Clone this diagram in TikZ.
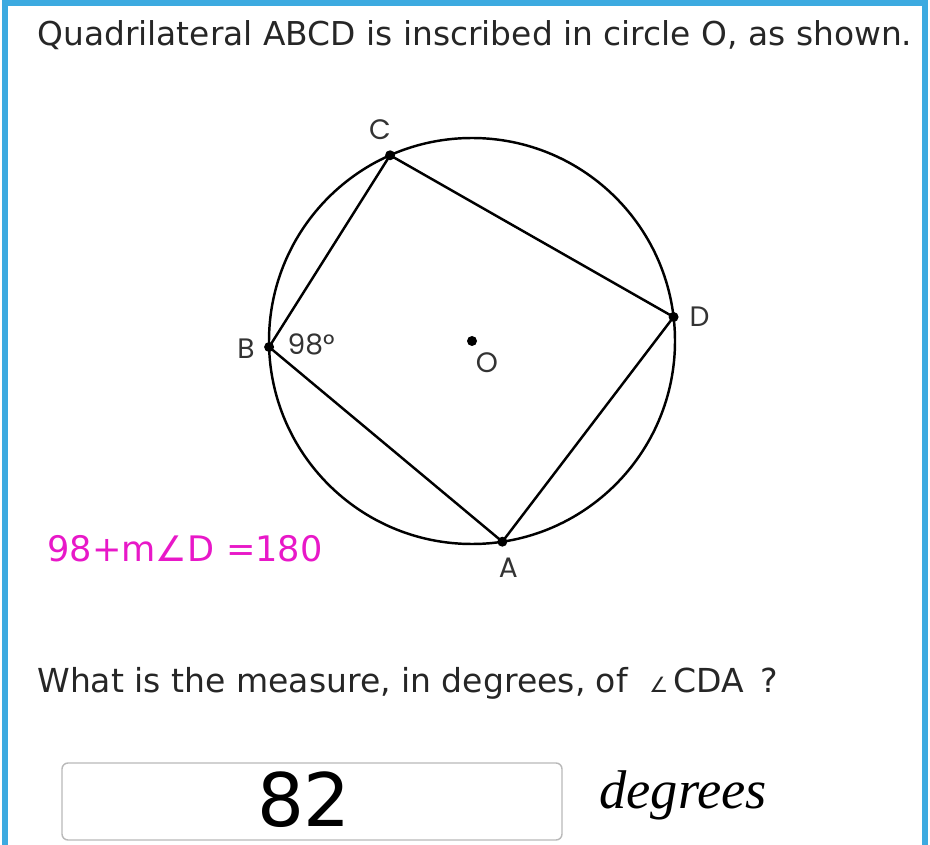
\documentclass[tikz,border=0pt]{standalone}
\usepackage{fontspec}
\usepackage{tikz}
\usepackage{xcolor}
\usetikzlibrary{calc,positioning}
\setmainfont{DejaVu Sans}
\newfontfamily\labelfont{Poppins}
\newfontfamily\inkfont{DejaVu Sans}
\newfontfamily\unitfont{Liberation Serif}
\definecolor{frameblue}{RGB}{60,170,224}
\definecolor{inkpink}{RGB}{232,24,200}
\definecolor{boxgray}{RGB}{185,185,185}

\begin{document}
\begin{tikzpicture}[
    dot/.style={circle, fill=black, inner sep=0pt, minimum size=0.2cm},
    ptlabel/.style={font=\labelfont\fontsize{16}{18}\selectfont, text=black!80, inner sep=0pt},
    qtext/.style={text=black!85, anchor=base west, inner sep=0pt}]
  \useasboundingbox (0,0) rectangle (18.6,-16.9);
  % frame
  \draw[frameblue, line width=0.12cm] (0.1,-16.9) -- (0.1,-0.06) -- (18.5,-0.06) -- (18.5,-16.9);
  \node[qtext, font=\fontsize{18.7}{22}\selectfont] (title) at (0.74,-0.92) {Quadrilateral ABCD is inscribed in circle O, as shown.};

  % circle and quadrilateral
  \coordinate (O) at (9.44,-6.82);
  \coordinate (A) at ($(O)+(278.6:4.06)$);
  \coordinate (B) at ($(O)+(181.7:4.06)$);
  \coordinate (C) at ($(O)+(113.8:4.06)$);
  \coordinate (D) at ($(O)+(6.8:4.06)$);
  \draw[line width=1.4pt] (O) circle (4.06);
  \draw[line width=1.4pt, line join=round] (A) -- (B) -- (C) -- (D) -- cycle;
  \foreach \p in {A,B,C,D,O}
    \node[dot] at (\p) {};
  \node[ptlabel] (labA) at ($(A)+(0.12,-0.52)$) {A};
  \node[ptlabel] (labB) at ($(B)+(-0.46,-0.04)$) {B};
  \node[ptlabel] (labC) at ($(C)+(-0.2,0.52)$) {C};
  \node[ptlabel] (labD) at ($(D)+(0.52,0)$) {D};
  \node[ptlabel] (labO) at ($(O)+(0.3,-0.44)$) {O};
  \node[ptlabel] (angB) at ($(B)+(0.84,0.06)$) {98°};

  % handwritten work
  \node[font=\inkfont\fontsize{20}{22}\selectfont, text=inkpink, anchor=west, inner sep=0pt] (work) at (0.94,-10.98) {98+m∠D\,\,=180};

  % question and answer
  \node[qtext, font=\fontsize{18.8}{22}\selectfont] (question) at (0.74,-13.84) {What is the measure, in degrees, of \,\,{\fontsize{12}{13}\selectfont∠}\,CDA\, ?};
  \node[draw=boxgray, line width=0.8pt, rounded corners=0.12cm, minimum width=10cm, minimum height=1.54cm] (answer) at (6.24,-16.03) {};
  \node[font=\inkfont\fontsize{42}{46}\selectfont, inner sep=0pt] (value) at (6.08,-16.0) {82};
  \node[font=\unitfont\itshape\fontsize{31}{34}\selectfont, anchor=base west, inner sep=0pt] (unit) at (11.98,-16.16) {degrees};
\end{tikzpicture}
\end{document}
